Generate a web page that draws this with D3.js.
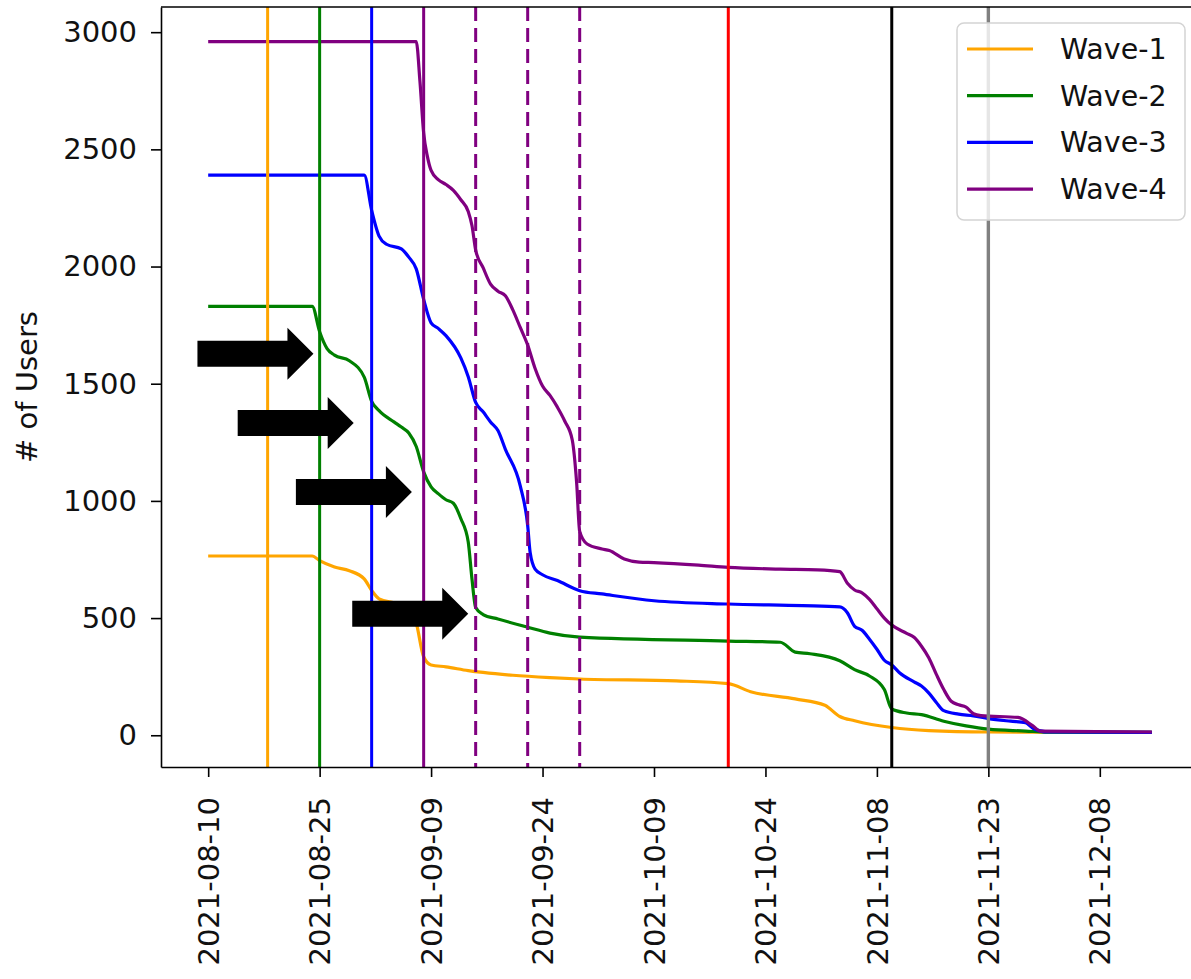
<!DOCTYPE html>
<html lang="en">
<head>
    <meta charset="UTF-8">
    <title>Users per Wave</title>
    <script src="https://d3js.org/d3.v7.min.js"></script>
    <style>
        body { margin: 0; background: #fff; }
        .chart text { font-family: "DejaVu Sans", sans-serif; fill: #111; }
        .axis path, .axis line { stroke: #000; stroke-width: 1.6; }
    </style>
</head>
<body>
<svg id="chart" class="chart" width="1191" height="979"></svg>
<script>
    // ---- data ----
    const waveNames = ["Wave-1", "Wave-2", "Wave-3", "Wave-4"];

    const wave1 = [["2021-08-10",765],["2021-08-24",765],["2021-08-25",745],["2021-08-27",718],["2021-08-29",702],
        ["2021-08-31",667],["2021-09-01",618],["2021-09-02",582],["2021-09-04",565],["2021-09-06",550],["2021-09-07",480],
        ["2021-09-08",335],["2021-09-09",300],["2021-09-11",292],["2021-09-14",276],["2021-09-16",268],["2021-09-20",256],
        ["2021-09-25",246],["2021-09-29",240],["2021-10-12",232],["2021-10-19",220],["2021-10-22",186],["2021-10-28",155],
        ["2021-11-01",128],["2021-11-03",80],["2021-11-05",62],["2021-11-10",33],["2021-11-15",20],["2021-11-23",14],
        ["2021-12-15",12]];

    const wave2 = [["2021-08-10",1830],["2021-08-24",1830],["2021-08-25",1722],["2021-08-26",1650],["2021-08-27",1622],
        ["2021-08-29",1598],["2021-08-31",1528],["2021-09-01",1425],["2021-09-02",1385],["2021-09-04",1337],["2021-09-05",1315],
        ["2021-09-06",1290],["2021-09-07",1232],["2021-09-08",1124],["2021-09-09",1060],["2021-09-10",1030],["2021-09-11",1005],
        ["2021-09-12",990],["2021-09-13",925],["2021-09-14",825],["2021-09-14T12",667],["2021-09-15",545],["2021-09-16",515],
        ["2021-09-18",496],["2021-09-22",461],["2021-09-25",436],["2021-09-29",419],["2021-10-19",402],["2021-10-26",397],
        ["2021-10-28",355],["2021-10-30",348],["2021-11-03",318],["2021-11-05",280],["2021-11-07",253],["2021-11-09",195],
        ["2021-11-10",112],["2021-11-12",95],["2021-11-14",88],["2021-11-17",60],["2021-11-20",40],["2021-11-23",26],
        ["2021-11-28",18],["2021-12-01",13],["2021-12-15",12]];

    const wave3 = [["2021-08-10",2390],["2021-08-31",2390],["2021-09-01",2240],["2021-09-02",2130],["2021-09-03",2095],
        ["2021-09-05",2075],["2021-09-06",2040],["2021-09-07",1990],["2021-09-08",1860],["2021-09-09",1760],["2021-09-10",1735],
        ["2021-09-11",1705],["2021-09-13",1610],["2021-09-14",1530],["2021-09-15",1420],["2021-09-16",1380],["2021-09-17",1337],
        ["2021-09-18",1300],["2021-09-19",1220],["2021-09-21",1064],["2021-09-22",895],["2021-09-22T08",780],["2021-09-23",709],
        ["2021-09-24",685],["2021-09-26",660],["2021-09-29",617],["2021-10-02",603],["2021-10-09",574],["2021-10-19",560],
        ["2021-10-29",553],["2021-11-03",548],["2021-11-04",524],["2021-11-05",465],["2021-11-06",448],["2021-11-07",410],
        ["2021-11-08",367],["2021-11-09",320],["2021-11-10",300],["2021-11-11",268],["2021-11-13",228],["2021-11-14",210],
        ["2021-11-15",180],["2021-11-16",140],["2021-11-17",105],["2021-11-19",90],["2021-11-21",83],["2021-11-23",71],
        ["2021-11-26",60],["2021-11-28",54],["2021-11-29",30],["2021-12-01",14],["2021-12-15",12]];

    const wave4 = [["2021-08-10",2960],["2021-09-07",2960],["2021-09-07T12",2790],["2021-09-08",2570],["2021-09-08T12",2470],
        ["2021-09-09",2410],["2021-09-10",2370],["2021-09-11",2350],["2021-09-12",2325],["2021-09-13",2285],["2021-09-14",2235],
        ["2021-09-14T12",2175],["2021-09-15",2070],["2021-09-16",1995],["2021-09-17",1925],["2021-09-18",1895],["2021-09-19",1875],
        ["2021-09-20",1815],["2021-09-21",1740],["2021-09-22",1665],["2021-09-23",1565],["2021-09-24",1490],["2021-09-25",1450],
        ["2021-09-26",1400],["2021-09-27",1340],["2021-09-28",1260],["2021-09-28T14",1080],["2021-09-29",870],["2021-09-30",816],
        ["2021-10-02",795],["2021-10-03",788],["2021-10-05",752],["2021-10-07",739],["2021-10-09",737],["2021-10-15",726],
        ["2021-10-19",716],["2021-10-26",709],["2021-10-31",706],["2021-11-03",698],["2021-11-04",650],["2021-11-05",620],
        ["2021-11-06",608],["2021-11-07",580],["2021-11-08",540],["2021-11-09",500],["2021-11-10",470],["2021-11-12",435],
        ["2021-11-13",418],["2021-11-14",380],["2021-11-15",330],["2021-11-16",260],["2021-11-17",195],["2021-11-18",145],
        ["2021-11-19",130],["2021-11-20",120],["2021-11-21",92],["2021-11-22",84],["2021-11-27",76],["2021-11-29",40],
        ["2021-11-30",18],["2021-12-15",14]];

    // vertical marker dates
    const markerDates = ["2021-08-18", "2021-08-25", "2021-09-01", "2021-09-08", "2021-09-15",
        "2021-09-22", "2021-09-29", "2021-10-19", "2021-11-10", "2021-11-23"];

    // arrow tips (date, users)
    const arrowDates = ["2021-08-24T04", "2021-08-29T14", "2021-09-06T10", "2021-09-14T00"];
    const arrowUsers = [1628, 1332, 1038, 518];

    const xTickLabels = ["2021-08-10", "2021-08-25", "2021-09-09", "2021-09-24", "2021-10-09",
        "2021-10-24", "2021-11-08", "2021-11-23", "2021-12-08"];
    const yTickValues = [0, 500, 1000, 1500, 2000, 2500, 3000];

    // ---- styles ----
    const waveColors = ["orange", "green", "blue", "purple"];
    const markerColors = ["orange", "green", "blue", "purple", "purple", "purple", "purple", "red", "black", "grey"];
    const markerDashed = [false, false, false, false, true, true, true, false, false, false];

    const parseDate = s => s.length > 10 ? d3.utcParse("%Y-%m-%dT%H")(s) : d3.utcParse("%Y-%m-%d")(s);

    const svg = d3.select("#chart"),
        margin = { top: 7, left: 161 },
        width = 1038,
        height = 760;

    const chart = svg.append("g")
        .attr("transform", `translate(${margin.left},${margin.top})`);

    const series = [wave1, wave2, wave3, wave4].map((s, i) => ({
        name: waveNames[i],
        values: s.map(d => ({ date: parseDate(d[0]), users: d[1] }))
    }));
    const all = series.flatMap(s => s.values);

    // scales with matplotlib-like 5% margins
    const xExt = d3.extent(all, d => d.date);
    const yExt = d3.extent(all, d => d.users);
    const xPad = (xExt[1] - xExt[0]) * 0.05;
    const yPad = (yExt[1] - yExt[0]) * 0.05;

    const x = d3.scaleUtc()
        .domain([new Date(+xExt[0] - xPad), new Date(+xExt[1] + xPad)])
        .range([0, width]);
    const y = d3.scaleLinear()
        .domain([yExt[0] - yPad, yExt[1] + yPad])
        .range([height, 0]);

    // curves
    const line = d3.line()
        .x(d => x(d.date))
        .y(d => y(d.users))
        .curve(d3.curveMonotoneX);

    chart.selectAll(".wave")
        .data(series)
        .enter().append("path")
        .attr("class", "wave")
        .attr("fill", "none")
        .attr("stroke", (d, i) => waveColors[i])
        .attr("stroke-width", 3.2)
        .attr("stroke-linejoin", "round")
        .attr("d", d => line(d.values));

    // vertical markers
    chart.selectAll(".marker")
        .data(markerDates)
        .enter().append("line")
        .attr("class", "marker")
        .attr("x1", d => x(parseDate(d)))
        .attr("x2", d => x(parseDate(d)))
        .attr("y1", 0)
        .attr("y2", height)
        .attr("stroke", (d, i) => markerColors[i])
        .attr("stroke-width", (d, i) => markerColors[i] === "grey" ? 3.4 : 3)
        .attr("stroke-dasharray", (d, i) => markerDashed[i] ? "14,7" : null);

    // axes
    const xAxis = chart.append("g")
        .attr("class", "axis")
        .attr("transform", `translate(0,${height})`)
        .call(d3.axisBottom(x)
            .tickValues(xTickLabels.map(parseDate))
            .tickFormat(d3.utcFormat("%Y-%m-%d"))
            .tickSize(10)
            .tickSizeOuter(0));
    xAxis.selectAll("text")
        .attr("transform", "rotate(-90)")
        .attr("x", -30)
        .attr("y", 0)
        .attr("dy", "0.35em")
        .style("text-anchor", "end")
        .style("font-size", "29px");

    const yAxis = chart.append("g")
        .attr("class", "axis")
        .call(d3.axisLeft(y)
            .tickValues(yTickValues)
            .tickFormat(d3.format("d"))
            .tickSize(10)
            .tickPadding(14)
            .tickSizeOuter(0));
    yAxis.selectAll("text").style("font-size", "29px");

    // top spine
    chart.append("line")
        .attr("x1", 0).attr("x2", width)
        .attr("y1", 0).attr("y2", 0)
        .attr("stroke", "#000").attr("stroke-width", 1.6);

    // y label
    svg.append("text")
        .attr("transform", `translate(27,${margin.top + height / 2})rotate(-90)`)
        .attr("text-anchor", "middle")
        .attr("dy", "0.35em")
        .style("font-size", "29px")
        .text("# of Users");

    // legend
    const legend = svg.append("g").attr("transform", "translate(957,23)");
    legend.append("rect")
        .attr("width", 228).attr("height", 197)
        .attr("rx", 7)
        .attr("fill", "#fff").attr("fill-opacity", 0.8)
        .attr("stroke", "#d4d4d4").attr("stroke-width", 1.5);
    const item = legend.selectAll(".item")
        .data(waveNames)
        .enter().append("g")
        .attr("transform", (d, i) => `translate(0,${26 + i * 46.7})`);
    item.append("line")
        .attr("x1", 10).attr("x2", 76)
        .attr("stroke", (d, i) => waveColors[i])
        .attr("stroke-width", 3.2);
    item.append("text")
        .attr("x", 103)
        .attr("dy", "0.35em")
        .style("font-size", "28.5px")
        .text(d => d);

    // block arrows pointing at the wave-2 steps
    const arrowShape = [[0, 0], [-26, -26], [-26, -13], [-116, -13], [-116, 13], [-26, 13], [-26, 26]];
    chart.selectAll(".arrow")
        .data(arrowDates)
        .enter().append("polygon")
        .attr("class", "arrow")
        .attr("transform", (d, i) => `translate(${x(parseDate(d))},${y(arrowUsers[i])})`)
        .attr("points", arrowShape.map(p => p.join(",")).join(" "))
        .attr("fill", "#000");
</script>
</body>
</html>
